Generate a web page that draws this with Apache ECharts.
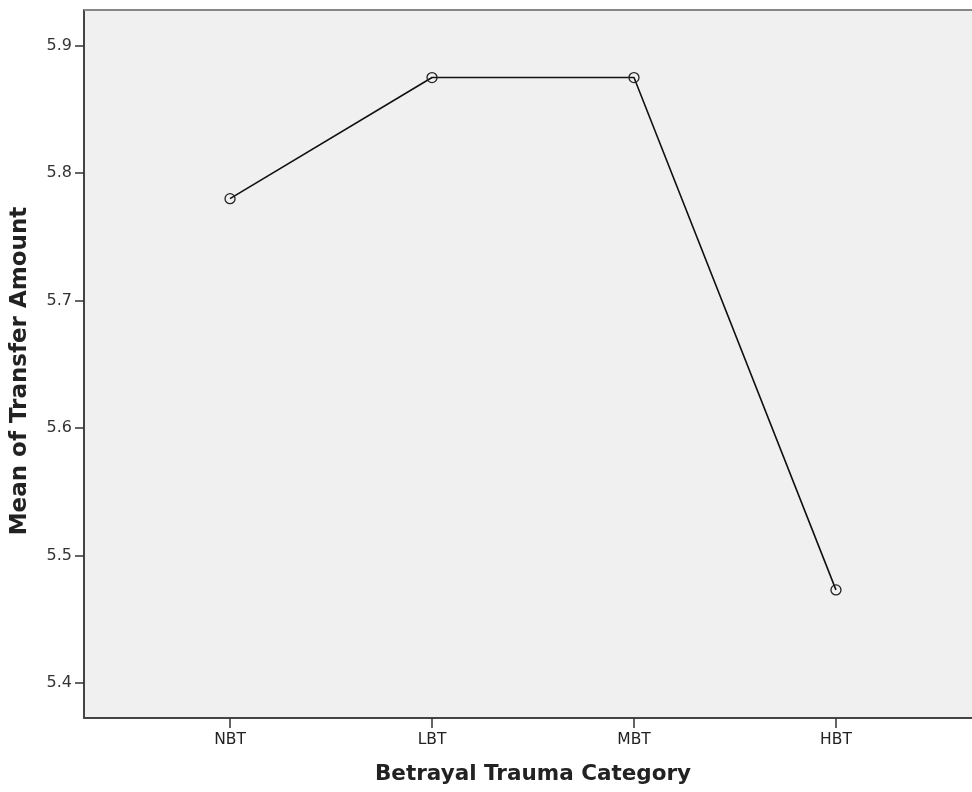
<!DOCTYPE html>
<html><head><meta charset="utf-8">
<script src="https://cdn.jsdelivr.net/npm/echarts@6/dist/echarts.min.js"></script>
<style>html,body{margin:0;padding:0;background:#fff}#c{width:972px;height:792px}</style>
</head><body><div id="c"></div>
<script>
const categories = ['NBT', 'LBT', 'MBT', 'HBT'];
const meanValues = [5.780, 5.875, 5.875, 5.473];
const yTicks = [5.4, 5.5, 5.6, 5.7, 5.8, 5.9];
const xTitle = 'Betrayal Trauma Category';
const yTitle = 'Mean of Transfer Amount';

const chart = echarts.init(document.getElementById('c'));
const xPositions = categories.map((c, i) => i + 1);
chart.setOption({
  animation: false,
  backgroundColor: '#ffffff',
  grid: { left: 84, top: 10, right: -10, bottom: 74, show: true, backgroundColor: '#f0f0f0', borderWidth: 0, outerBoundsMode: 'none', containLabel: false },
  xAxis: {
    type: 'value', min: 0.277, max: 4.723,
    name: xTitle, nameLocation: 'middle', nameGap: 45,
    nameTextStyle: { fontFamily: 'DejaVu Sans', fontWeight: 'bold', fontSize: 21.5, color: '#222' },
    axisLine: { show: true, lineStyle: { color: '#444', width: 2 } },
    axisTick: { show: true, customValues: xPositions, length: 10, lineStyle: { color: '#333', width: 1.5 } },
    axisLabel: { customValues: xPositions, formatter: v => categories[Math.round(v) - 1] || '', fontFamily: 'DejaVu Sans', fontSize: 15.5, color: '#222', margin: 14 },
    splitLine: { show: false }
  },
  yAxis: {
    type: 'value', min: 5.3725, max: 5.928,
    name: yTitle, nameLocation: 'middle', nameGap: 52, nameRotate: 90,
    nameTextStyle: { fontFamily: 'DejaVu Sans', fontWeight: 'bold', fontSize: 23, color: '#222', padding: [0, 14, 0, 0] },
    axisLine: { show: true, lineStyle: { color: '#444', width: 2 } },
    axisTick: { show: true, customValues: yTicks, length: 9, lineStyle: { color: '#333', width: 1.5 } },
    axisLabel: { customValues: yTicks, formatter: v => v.toFixed(1), fontFamily: 'DejaVu Sans', fontSize: 16, color: '#333', margin: 12 },
    splitLine: { show: false }
  },
  series: [{
    type: 'line',
    data: xPositions.map((x, i) => [x, meanValues[i]]),
    symbol: 'circle', symbolSize: 10,
    lineStyle: { color: '#111', width: 1.6 },
    itemStyle: { color: 'rgba(240,240,240,0)', borderColor: '#222', borderWidth: 1.3 }
  }],
  graphic: [{
    type: 'line', shape: { x1: 84, y1: 10, x2: 972, y2: 10 },
    style: { stroke: '#888', lineWidth: 2 }, z: 10
  }]
});
</script></body></html>
